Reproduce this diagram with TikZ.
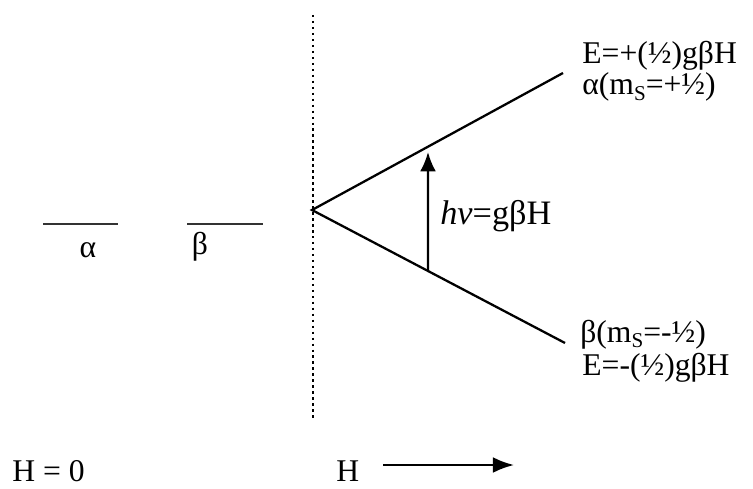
\documentclass[tikz,border=0pt]{standalone}
\usepackage{fontspec}
\setmainfont{Liberation Serif}
\usetikzlibrary{arrows.meta,calc}
\tikzset{>=latex}
\tikzset{
  level line/.style={line width=1.3pt,black},
  zero level/.style={line width=0.9pt,black!80},
  label text/.style={font=\fontsize{18}{20}\selectfont,inner sep=0pt},
  big arrow/.style={line width=1.3pt,-{Latex[length=11pt,width=9pt]}}}
\newcommand\msub{m\raisebox{-0.35ex}{\fontsize{12}{12}\selectfont S}}

\begin{document}
\begin{tikzpicture}[x=0.02cm,y=-0.02cm]
  \useasboundingbox (0,0) rectangle (753,489);
  \coordinate (V)   at (312,210);     % crossing point
  \coordinate (UP)  at (563,73);      % alpha level end
  \coordinate (LO)  at (565,343);     % beta level end
  \coordinate (DT)  at (313,15);
  \coordinate (DB)  at (313,420);
  \coordinate (AT)  at (428,152);
  \coordinate (AB)  at ($(V)!0.4585!(LO)$);

  % FIELD ZERO
  \draw[dotted,line width=1.4pt] (DT) -- (DB);
  \coordinate (A1) at (43,224);  \coordinate (A2) at (118,224);
  \coordinate (B1) at (187,224); \coordinate (B2) at (263,224);
  \draw[zero level] (A1) -- (A2);
  \draw[zero level] (B1) -- (B2);
  \node[label text,anchor=base] (la) at (88,257) {α};
  \node[label text,anchor=base] (lb) at (200,255) {β};

  % LEVELS
  \draw[level line] (UP) -- (V) -- (LO);
  \draw[big arrow] (AB) -- (AT);
  \node[label text,font=\fontsize{19.5}{21}\selectfont,anchor=base west] (hv) at (440,225) {\textit{hν}=gβH};

  \node[label text,anchor=base west] (Eup) at (582,64) {E=+(½)gβH};
  \node[label text,anchor=base west] (mup) at (582,95) {α(\msub=+½)};
  \node[label text,anchor=base west] (mlo) at (580,342) {β(\msub=-½)};
  \node[label text,anchor=base west] (Elo) at (582,375) {E=-(½)gβH};

  % AXIS
  \node[label text,anchor=base west] (H0) at (12,481) {H = 0};
  \node[label text,anchor=base west] (H) at (336,481) {H};
  \coordinate (HA) at (383,465);
  \coordinate (HB) at (514,465);
  \draw[line width=1.3pt,-{Latex[length=12pt,width=9pt]}] (HA) -- (HB);
\end{tikzpicture}
\end{document}
